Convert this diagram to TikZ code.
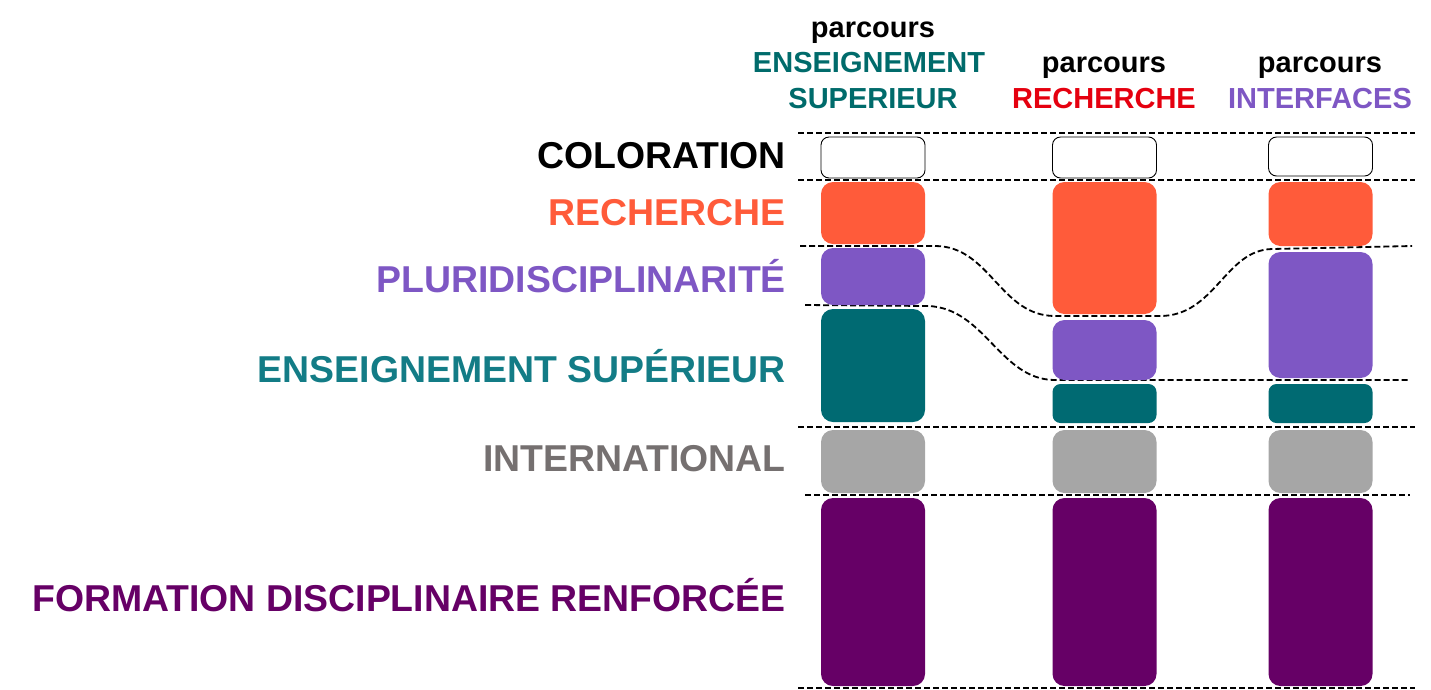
\documentclass[tikz,border=0pt]{standalone}
\usepackage{fontspec}
\setmainfont{Liberation Sans}
\definecolor{orangeR}{HTML}{FF5B3A}
\definecolor{purpleP}{HTML}{7E57C4}
\definecolor{tealE}{HTML}{006A72}
\definecolor{tealT}{HTML}{137C86}
\definecolor{tealH}{HTML}{006B6B}
\definecolor{grayI}{HTML}{A6A6A6}
\definecolor{grayT}{HTML}{757070}
\definecolor{plumF}{HTML}{660066}
\definecolor{redH}{HTML}{E5000F}
\tikzset{
  blk/.style={rounded corners=12pt, draw=none, minimum width=104pt, inner sep=0pt},
  colbox/.style={rounded corners=8pt, draw=black, line width=0.9pt, fill=white, minimum width=104pt, inner sep=0pt},
  sep/.style={dashed, dash pattern=on 6pt off 3pt, line width=1.8pt},
  lab/.style={anchor=base east, inner sep=0pt, font=\bfseries\fontsize{37.4}{44}\selectfont},
  head/.style={anchor=base, inner sep=0pt, font=\bfseries\fontsize{29}{35}\selectfont},
}
\begin{document}
\begin{tikzpicture}[x=1pt,y=-1pt]
\useasboundingbox (0,0) rectangle (1431,689);
% labels
\node[lab, text=black]  (lcol) at (786,168) {COLORATION};
\node[lab, text=orangeR] (lrec) at (786,225) {RECHERCHE};
\node[lab, text=purpleP] (lplu) at (786,292) {PLURIDISCIPLINARITÉ};
\node[lab, text=tealT]  (lens) at (786,382) {ENSEIGNEMENT SUPÉRIEUR};
\node[lab, text=grayT]  (lint) at (786,471) {INTERNATIONAL};
\node[lab, text=plumF]  (lfor) at (786,611) {FORMATION DISCIPLINAIRE RENFORCÉE};
% headers
\node[head] (h1a) at (873,37) {parcours};
\node[head, text=tealH] (h1b) at (869,72) {ENSEIGNEMENT};
\node[head, text=tealH] (h1c) at (873,108) {SUPERIEUR};
\node[head] (h2a) at (1104,72) {parcours};
\node[head, text=redH] (h2b) at (1104,108) {RECHERCHE};
\node[head] (h3a) at (1320,72) {parcours};
\node[head, text=purpleP] (h3b) at (1320,108) {INTERFACES};
% separators
\coordinate (s0l) at (798,133); \coordinate (s0r) at (1415,133);
\coordinate (s1l) at (798,180); \coordinate (s1r) at (1415,180);
\coordinate (s4l) at (798,427); \coordinate (s4r) at (1415,427);
\coordinate (s5l) at (805,495); \coordinate (s5r) at (1410,495);
\coordinate (s6l) at (798,688); \coordinate (s6r) at (1415,688);
\draw[sep] (s0l) -- (s0r);
\draw[sep] (s1l) -- (s1r);
\draw[sep] (s4l) -- (s4r);
\draw[sep] (s5l) -- (s5r);
\draw[sep] (s6l) -- (s6r);
\coordinate (c1a) at (800,246); \coordinate (c1b) at (935,246);
\coordinate (c1c) at (1055,316); \coordinate (c1d) at (1160,316);
\coordinate (c1e) at (1272,249); \coordinate (c1f) at (1412,246);
\draw[sep] (c1a) -- (c1b) .. controls (990,246) and (1000,316) .. (c1c) -- (c1d)
  .. controls (1215,316) and (1225,250) .. (c1e) -- (c1f);
\coordinate (c2a) at (805,305); \coordinate (c2b) at (928,306);
\coordinate (c2c) at (1055,380); \coordinate (c2d) at (1410,380);
\draw[sep] (c2a) -- (c2b) .. controls (985,308) and (1000,380) .. (c2c) -- (c2d);
% column 1
\node[colbox, minimum height=41pt] (k1) at (873,157.5) {};
\node[blk, fill=orangeR, minimum height=62pt] (r1) at (873,213) {};
\node[blk, fill=purpleP, minimum height=57pt] (p1) at (873,276.5) {};
\node[blk, fill=tealE, minimum height=113pt] (e1) at (873,365.5) {};
\node[blk, fill=grayI, minimum height=63pt] (i1) at (873,461.5) {};
\node[blk, fill=plumF, minimum height=188pt] (f1) at (873,592) {};
% column 2
\node[colbox, minimum height=41pt] (k2) at (1104.5,157.5) {};
\node[blk, fill=orangeR, minimum height=132pt] (r2) at (1104.5,248) {};
\node[blk, fill=purpleP, minimum height=60pt] (p2) at (1104.5,350) {};
\node[blk, fill=tealE, minimum height=39pt, rounded corners=8pt] (e2) at (1104.5,403.5) {};
\node[blk, fill=grayI, minimum height=63pt] (i2) at (1104.5,461.5) {};
\node[blk, fill=plumF, minimum height=188pt] (f2) at (1104.5,592) {};
% column 3
\node[colbox, minimum height=39pt] (k3) at (1320.5,156.5) {};
\node[blk, fill=orangeR, minimum height=64pt] (r3) at (1320.5,214) {};
\node[blk, fill=purpleP, minimum height=126pt] (p3) at (1320.5,315) {};
\node[blk, fill=tealE, minimum height=39pt, rounded corners=8pt] (e3) at (1320.5,403.5) {};
\node[blk, fill=grayI, minimum height=63pt] (i3) at (1320.5,461.5) {};
\node[blk, fill=plumF, minimum height=188pt] (f3) at (1320.5,592) {};
\end{tikzpicture}
\end{document}
